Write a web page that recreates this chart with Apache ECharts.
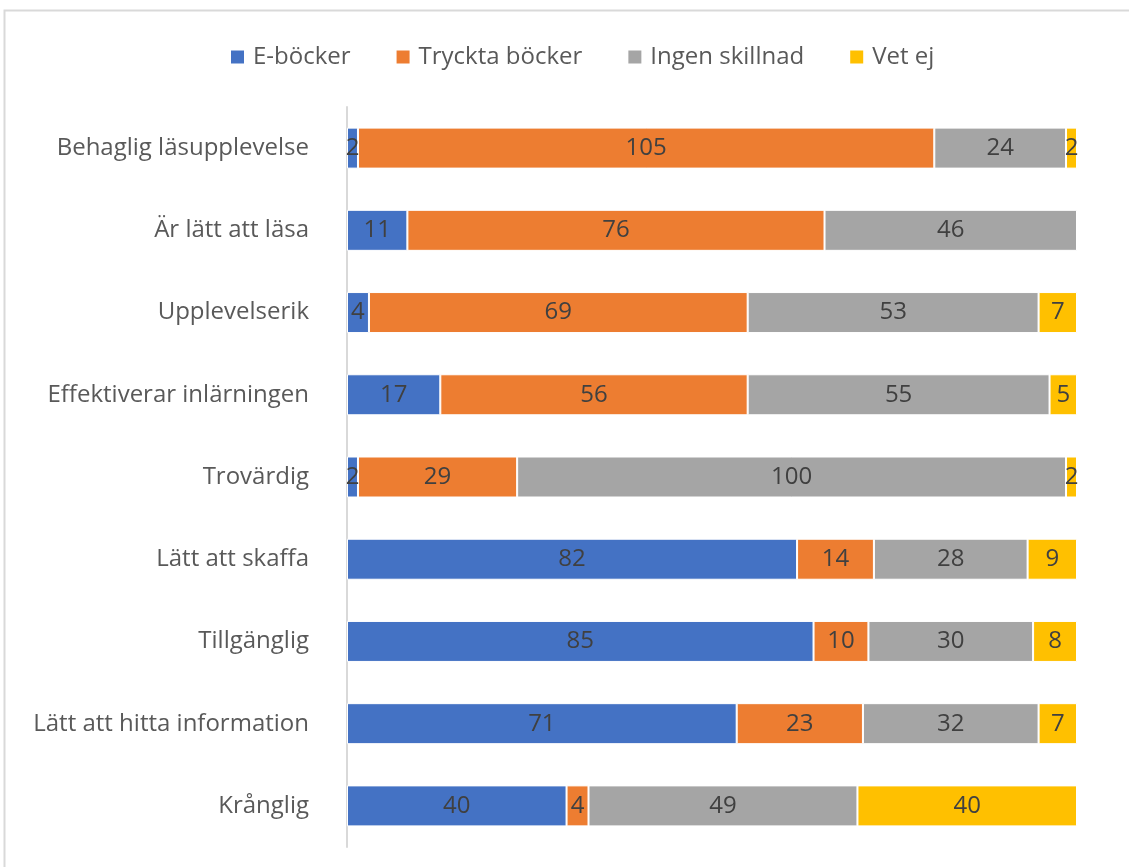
<!DOCTYPE html>
<html>
<head>
<meta charset="utf-8">
<script src="https://cdn.jsdelivr.net/npm/echarts@6/dist/echarts.min.js"></script>
<style>
  html, body { margin: 0; padding: 0; background: #fff; }
  #chart { width: 1129px; height: 867px; }
</style>
</head>
<body>
<div id="chart"></div>
<script>
// kategorier, uppifrån och ned
const categories = [
  'Behaglig läsupplevelse',
  'Är lätt att läsa',
  'Upplevelserik',
  'Effektiverar inlärningen',
  'Trovärdig',
  'Lätt att skaffa',
  'Tillgänglig',
  'Lätt att hitta information',
  'Krånglig'
];
const eBocker = [2, 11, 4, 17, 2, 82, 85, 71, 40];
const tryckta = [105, 76, 69, 56, 29, 14, 10, 23, 4];
const ingenSkillnad = [24, 46, 53, 55, 100, 28, 30, 32, 49];
const vetEj = [2, 0, 7, 5, 2, 9, 8, 7, 40];
const total = 133;

const FONT = 'Open Sans';

const chart = echarts.init(document.getElementById('chart'));

const mkSeries = (name, data, color) => ({
  name: name,
  type: 'bar',
  stack: 'all',
  data: data.map((v) => (v === 0 ? null : v)),
  barWidth: 41,
  itemStyle: {
    color: color,
    borderColor: '#ffffff',
    borderWidth: 1,
  },
  label: {
    show: true,
    position: 'inside',
    color: '#404040',
    fontFamily: FONT,
    fontSize: 24,
  },
  emphasis: { disabled: true },
});

chart.setOption({
  animation: false,
  backgroundColor: '#ffffff',
  textStyle: { fontFamily: FONT },
  graphic: [
    {
      type: 'polyline',
      shape: { points: [[4.5, 867], [4.5, 10.5], [1129, 10.5]] },
      style: { stroke: '#d9d9d9', lineWidth: 2, fill: null },
      silent: true,
    },
  ],
  legend: {
    top: 40,
    left: 224,
    icon: 'rect',
    itemWidth: 15,
    itemHeight: 15,
    itemGap: 44,
    textStyle: {
      color: '#595959',
      fontSize: 24,
      fontFamily: FONT,
      padding: [0, 0, 0, 3],
    },
    data: ['E-böcker', 'Tryckta böcker', 'Ingen skillnad', 'Vet ej'],
  },
  grid: {
    left: 347,
    right: 52,
    top: 107,
    bottom: 20,
    containLabel: false,
  },
  xAxis: {
    type: 'value',
    min: 0,
    max: total,
    show: false,
  },
  yAxis: {
    type: 'category',
    data: categories,
    inverse: true,
    axisLine: { lineStyle: { color: '#d9d9d9', width: 2 } },
    axisTick: { show: false },
    axisLabel: {
      color: '#595959',
      fontSize: 24,
      fontFamily: FONT,
      margin: 38,
    },
  },
  series: [
    mkSeries('E-böcker', eBocker, '#4472c4'),
    mkSeries('Tryckta böcker', tryckta, '#ed7d31'),
    mkSeries('Ingen skillnad', ingenSkillnad, '#a5a5a5'),
    mkSeries('Vet ej', vetEj, '#ffc000'),
  ],
});
</script>
</body>
</html>
